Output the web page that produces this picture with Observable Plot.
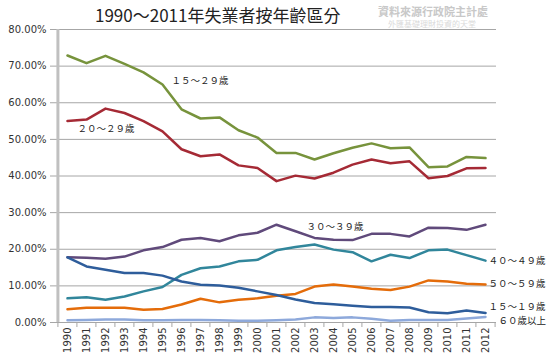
<!DOCTYPE html>
<html><head><meta charset="utf-8">
<script src="https://cdn.jsdelivr.net/npm/d3@7"></script>
<script src="https://cdn.jsdelivr.net/npm/@observablehq/plot@0.6"></script>
<style>
body{margin:0;background:#fff;}
#wrap{position:relative;width:554px;height:357px;overflow:hidden;}
#chart{position:absolute;left:0;top:0;}
#title{position:absolute;left:95px;top:4px;font:17px/22px "Noto Sans CJK TC",sans-serif;color:#222;white-space:nowrap;}
#src1{position:absolute;left:378px;top:5px;font:bold 11px/13px "Noto Sans CJK TC",sans-serif;color:#c8c8c8;white-space:nowrap;}
#src2{position:absolute;left:388px;top:19px;font:8px/10px "Noto Sans CJK TC",sans-serif;color:#dadada;white-space:nowrap;}
</style>
</head><body>
<div id="wrap">
  <div id="chart"></div>
  <div id="title">1990～2011年失業者按年齡區分</div>
  <div id="src1">資料來源行政院主計處</div>
  <div id="src2">外匯基礎理財投資的天堂</div>
</div>
<script>
const years = ["1990","1991","1992","1993","1994","1995","1996","1997","1998","1999","2000","2001","2002","2003","2004","2005","2006","2007","2008","2009","2010","2011","2012"];
const yTicks = [0,10,20,30,40,50,60,70,80];

const seriesNames = ["15~29","20~29","30~39","40~49","50~59","15~19","60+"];
const seriesColors = ["#77933C","#A52A35","#604A7B","#31869B","#E46C0A","#2E5D9B","#8EA9DB"];

const age15_29 = [72.9,70.8,72.8,70.6,68.3,65.0,58.2,55.7,56.0,52.5,50.5,46.3,46.3,44.5,46.2,47.7,48.9,47.6,47.8,42.4,42.6,45.2,44.9];
const age20_29 = [55.0,55.4,58.4,57.2,55.0,52.2,47.3,45.4,45.9,42.9,42.2,38.6,40.1,39.3,40.9,43.1,44.5,43.5,44.0,39.4,40.0,42.1,42.2];
const age30_39 = [17.8,17.7,17.4,18.0,19.7,20.6,22.6,23.1,22.2,23.8,24.5,26.7,24.9,23.1,22.6,22.5,24.2,24.2,23.5,25.9,25.8,25.3,26.7];
const age40_49 = [6.6,6.9,6.2,7.1,8.5,9.7,13.0,14.8,15.3,16.7,17.1,19.7,20.6,21.3,19.9,19.2,16.7,18.5,17.6,19.7,19.9,18.4,16.9];
const age50_59 = [3.6,4.0,4.0,4.0,3.5,3.7,4.9,6.5,5.5,6.2,6.6,7.3,7.8,9.8,10.4,9.8,9.2,8.9,9.8,11.5,11.2,10.6,10.4];
const age15_19 = [17.8,15.3,14.4,13.5,13.5,12.8,11.2,10.3,10.1,9.5,8.5,7.5,6.3,5.3,5.0,4.6,4.2,4.2,4.1,2.8,2.5,3.3,2.6];
const age60up  = [0.6,0.7,0.8,0.8,0.6,0.6,0.7,0.7,0.6,0.5,0.5,0.6,0.8,1.4,1.2,1.4,1.0,0.5,0.7,0.7,0.7,1.1,1.5];

const labelTexts = ["１５～２９歲","２０～２９歲","３０～３９歲","４０～４９歲","５０～５９歲","１５～１９歲","６０歲以上"];
const labelYears = ["1995","1990","2003","2012","2012","2012","2012"];

const seriesValues = [age15_29, age20_29, age30_39, age40_49, age50_59, age15_19, age60up];
const table = [];
seriesNames.forEach((s, i) => years.forEach((y, j) => table.push({series: s, year: y, value: seriesValues[i][j]})));

const mLeft = 55, mRight = 58, mTop = 29, mBottom = 35, W = 554, H = 357;
const step = (W - mLeft - mRight) / years.length;

const labelOffsets = [
  {dx: 9, dy: -3},
  {dx: 10, dy: 8},
  {dx: -8, dy: -11},
  {dx: 3, dy: 0},
  {dx: 3, dy: 0},
  {dx: 3, dy: -6},
  {dx: 13, dy: 4}
];
const labelMarks = labelTexts.map((t, i) => {
  const yr = labelYears[i];
  const v = seriesValues[i][years.indexOf(yr)];
  return Plot.text([{t, yr, v}], {
    x: "yr", y: "v", text: "t",
    dx: labelOffsets[i].dx, dy: labelOffsets[i].dy, textAnchor: "start",
    fill: "#222", fontSize: 9.5, fontFamily: "Noto Sans CJK TC"
  });
});

const chart = Plot.plot({
  width: W, height: H,
  marginLeft: mLeft, marginRight: mRight, marginTop: mTop, marginBottom: mBottom,
  style: {fontFamily: "DejaVu Sans", fontSize: "10px", color: "#333", background: "transparent", overflow: "visible"},
  x: {type: "point", domain: years, padding: 0.5, label: null},
  y: {domain: [0, 80], label: null},
  color: {domain: seriesNames, range: seriesColors},
  marks: [
    Plot.gridY(yTicks, {stroke: "#a6a6a6", strokeOpacity: 1}),
    Plot.axisY(yTicks, {tickSize: 5, tickPadding: 4, stroke: "#a6a6a6", label: null, tickFormat: d => d.toFixed(2) + "%", fill: "#333"}),
    Plot.axisX({tickSize: 0, tickRotate: -90, tickPadding: 5, label: null, fill: "#333"}),
    Plot.ruleX(years, {x: d => d, dx: -step / 2, y1: 0, y2: 0, insetBottom: -5, stroke: "#a6a6a6"}),
    Plot.ruleX([years[years.length - 1]], {x: d => d, dx: step / 2, y1: 0, y2: 0, insetBottom: -5, stroke: "#a6a6a6"}),
    Plot.ruleX([years[0]], {x: d => d, dx: -step / 2, stroke: "#c0c0c0", strokeWidth: 3}),
    Plot.line(table, {x: "year", y: "value", z: "series", stroke: "series", strokeWidth: 2.5}),
    ...labelMarks
  ]
});
document.getElementById("chart").appendChild(chart);
</script>
</body></html>
